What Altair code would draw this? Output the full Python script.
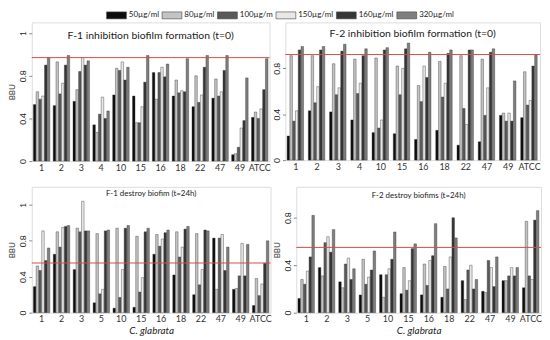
import altair as alt
import pandas as pd

concs = ["50µg/ml", "80µg/ml", "100µg/m", "150µg/ml", "160µg/ml", "320µg/ml"]
bar_colors = ["#0d0d0d", "#c4c4c4", "#595959", "#e8e8e8", "#363636", "#7f7f7f"]

groups_top = ["1", "2", "3", "4", "10", "15", "16", "18", "22", "47", "49", "ATCC"]
groups_bottom = ["1", "2", "3", "5", "10", "15", "16", "18", "22", "47", "49", "ATCC"]

# F-1 inhibition biofilm formation (t=0)
f1_inh_50 = [0.53, 0.52, 0.56, 0.34, 0.62, 0.61, 0.83, 0.61, 0.51, 0.59, 0.06, 0.41]
f1_inh_80 = [0.65, 0.93, 0.67, 0.27, 0.87, 0.36, 0.58, 0.76, 0.80, 0.77, 0.07, 0.46]
f1_inh_100 = [0.58, 0.63, 0.84, 0.44, 0.85, 0.36, 0.83, 0.64, 0.55, 0.61, 0.13, 0.40]
f1_inh_150 = [0.61, 0.73, 0.97, 0.60, 0.93, 0.51, 0.88, 0.66, 0.62, 0.65, 0.31, 0.49]
f1_inh_160 = [0.90, 0.90, 0.90, 0.40, 0.76, 0.74, 0.79, 0.65, 0.88, 0.85, 0.38, 0.67]
f1_inh_320 = [0.97, 0.99, 0.94, 0.47, 0.88, 0.99, 0.91, 0.96, 0.99, 0.99, 0.78, 0.96]

# F-2 inhibition biofilm formation (t=0)
f2_inh_50 = [0.21, 0.43, 0.42, 0.35, 0.24, 0.23, 0.18, 0.26, 0.13, 0.16, 0.39, 0.37]
f2_inh_80 = [0.91, 0.91, 0.84, 0.88, 0.89, 0.82, 0.65, 0.86, 0.91, 0.88, 0.41, 0.77]
f2_inh_100 = [0.34, 0.50, 0.57, 0.58, 0.28, 0.57, 0.51, 0.55, 0.45, 0.39, 0.34, 0.48]
f2_inh_150 = [0.43, 0.64, 0.63, 0.67, 0.35, 0.80, 0.82, 0.67, 0.31, 0.63, 0.41, 0.52]
f2_inh_160 = [0.96, 0.96, 0.95, 0.91, 0.96, 0.97, 0.72, 0.93, 0.96, 0.94, 0.34, 0.82]
f2_inh_320 = [0.99, 0.99, 1.01, 0.97, 0.98, 1.02, 0.94, 0.96, 0.96, 0.97, 0.69, 0.92]

# F-1 destroy biofim (t=24h)
f1_des_50 = [0.29, 0.65, 0.48, 0.11, 0.05, 0.06, 0.65, 0.42, 0.20, 0.83, 0.26, 0.08]
f1_des_80 = [0.52, 0.90, 0.94, 0.88, 0.94, 0.85, 0.87, 0.90, 0.88, 0.26, 0.27, 0.38]
f1_des_100 = [0.47, 0.73, 0.90, 0.21, 0.17, 0.23, 0.74, 0.62, 0.31, 0.83, 0.41, 0.19]
f1_des_150 = [0.91, 0.95, 1.24, 0.26, 0.48, 0.39, 0.82, 0.73, 0.48, 0.87, 0.77, 0.32]
f1_des_160 = [0.58, 0.96, 0.91, 0.91, 0.94, 0.90, 0.89, 0.93, 0.92, 0.47, 0.41, 0.55]
f1_des_320 = [0.72, 0.97, 0.91, 0.92, 0.97, 0.94, 0.92, 0.96, 0.91, 0.73, 0.76, 0.80]

# F-2 destroy biofims (t=24h)
f2_des_50 = [0.12, 0.38, 0.26, 0.15, 0.32, 0.16, 0.15, 0.13, 0.27, 0.18, 0.27, 0.21]
f2_des_80 = [0.28, 0.31, 0.21, 0.45, 0.13, 0.38, 0.41, 0.39, 0.11, 0.17, 0.27, 0.77]
f2_des_100 = [0.24, 0.59, 0.41, 0.24, 0.32, 0.19, 0.23, 0.20, 0.36, 0.44, 0.31, 0.31]
f2_des_150 = [0.35, 0.64, 0.46, 0.30, 0.37, 0.27, 0.44, 0.47, 0.40, 0.38, 0.38, 0.28]
f2_des_160 = [0.47, 0.51, 0.28, 0.36, 0.45, 0.54, 0.48, 0.80, 0.20, 0.22, 0.31, 0.78]
f2_des_320 = [0.82, 0.70, 0.37, 0.52, 0.68, 0.58, 0.75, 0.63, 0.28, 0.47, 0.38, 0.86]

FONT = "Lato"


def make_df(groups, series):
    rows = []
    for conc, vals in zip(concs, series):
        for g, v in zip(groups, vals):
            rows.append({"group": g, "conc": conc, "value": v})
    return pd.DataFrame(rows)


legend = alt.Legend(
    orient="none", legendX=80, legendY=-13, direction="horizontal", columns=6,
    title=None, symbolType="M-2,-0.7H2V0.7H-2Z", symbolSize=100,
    symbolStrokeColor="#444", symbolStrokeWidth=0.6, labelFont=FONT,
    labelFontSize=8, labelColor="#222", columnPadding=1, labelOffset=7,
)


def panel(groups, series, ymax, ticks, red, title, tsize, ty, width, height,
          ytitle, xtitle):
    df = make_df(groups, series)
    yaxis = alt.Axis(values=ticks, format="~g", labelAngle=270, labelFontSize=8.5,
                     labelFont=FONT, labelColor="#222", tickSize=3, tickColor="#888",
                     domain=False, grid=False, labelPadding=1, labelOverlap=False,
                     labelFlush=False, titleFont=FONT, titleFontSize=8,
                     titleFontWeight="normal", titlePadding=2, titleColor="#333",
                     title=ytitle)
    xaxis = alt.Axis(labelAngle=0, ticks=False, domain=False, labelFont=FONT,
                     labelFontSize=9, labelColor="#333", labelPadding=2,
                     title=xtitle, titleFont=FONT, titleFontSize=10,
                     titleFontStyle="italic", titleFontWeight="normal",
                     titleColor="#222", titlePadding=2)
    bars = alt.Chart(df).mark_bar(stroke="#333", strokeWidth=0.4).encode(
        x=alt.X("group:N", sort=groups,
                scale=alt.Scale(paddingInner=0.17, paddingOuter=0.08), axis=xaxis),
        xOffset=alt.XOffset("conc:N", sort=concs, scale=alt.Scale(paddingInner=0.1)),
        y=alt.Y("value:Q", scale=alt.Scale(domain=[0, ymax], nice=False), axis=yaxis),
        color=alt.Color("conc:N", sort=concs,
                        scale=alt.Scale(domain=concs, range=bar_colors), legend=legend),
    )
    rule = alt.Chart(pd.DataFrame({"value": [red]})).mark_rule(
        color="#e04848", strokeWidth=1).encode(y="value:Q")
    text = alt.Chart(pd.DataFrame({"t": [title]})).mark_text(
        font=FONT, fontSize=tsize, color="#222", baseline="middle").encode(
        text="t:N", x=alt.value(width / 2), y=alt.value(ty))
    return alt.layer(bars, rule, text).properties(width=width, height=height)


tl = panel(groups_top, [f1_inh_50, f1_inh_80, f1_inh_100, f1_inh_150, f1_inh_160, f1_inh_320],
           1.3, [0, 0.2, 0.4, 0.6, 0.8, 1, 1.2], 0.97,
           "F-1 inhibition biofilm formation (t=0)", 10.5, 14, 240, 140, "BBU", None)
tr = panel(groups_top, [f2_inh_50, f2_inh_80, f2_inh_100, f2_inh_150, f2_inh_160, f2_inh_320],
           1.2, [0, 0.2, 0.4, 0.6, 0.8, 1], 0.92,
           "F-2 inhibition biofilm formation (t=0)", 10.5, 12, 257, 139, None, None)
bl = panel(groups_bottom, [f1_des_50, f1_des_80, f1_des_100, f1_des_150, f1_des_160, f1_des_320],
           1.4, [0, 0.2, 0.4, 0.6, 0.8, 1, 1.2], 0.553,
           "F-1 destroy biofim (t=24h)", 8, 7, 241, 127, "BBU", "C. glabrata")
br = panel(groups_bottom, [f2_des_50, f2_des_80, f2_des_100, f2_des_150, f2_des_160, f2_des_320],
           1.06, [0, 0.2, 0.4, 0.6, 0.8, 1], 0.55,
           "F-2 destroy biofims (t=24h)", 8, 9, 247, 127, "BBU", "C. glabrata")

top = alt.hconcat(tl, tr, spacing=0)
bottom = alt.hconcat(bl, br, spacing=0)
chart = alt.vconcat(top, bottom, spacing=13).properties(
    padding={"left": 0, "top": 0, "right": 0, "bottom": 0}
).configure_view(stroke="#9a9a9a", strokeWidth=1).configure(background="white")

chart.save("out.html", embed_options={"renderer": "svg", "actions": False})
